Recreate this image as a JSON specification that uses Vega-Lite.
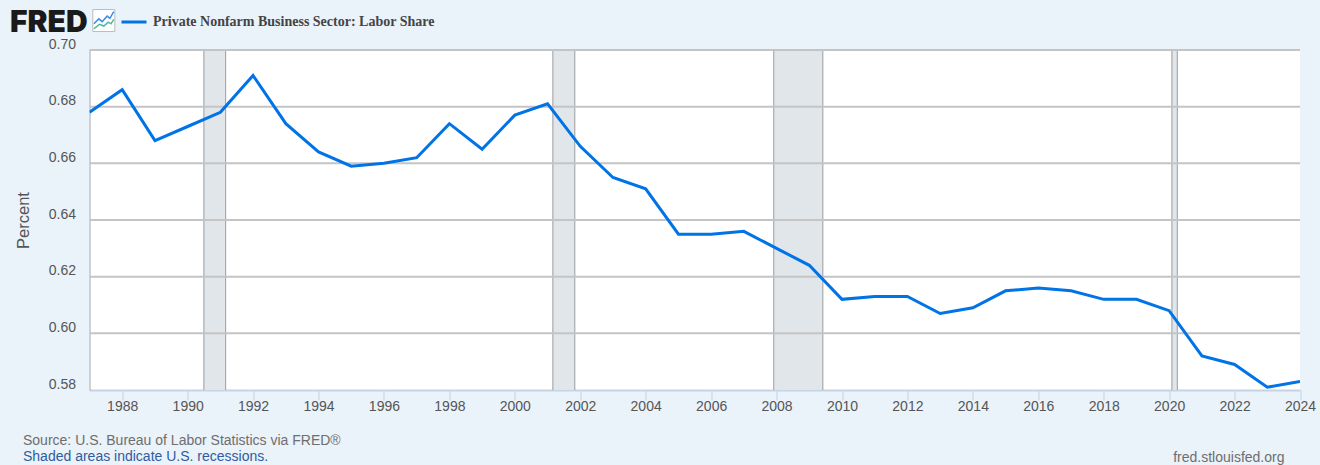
{
  "$schema": "https://vega.github.io/schema/vega-lite/v6.json",
  "autosize": {"type": "none"},
  "padding": {"left": 89.5, "top": 50, "right": 20, "bottom": 75},
  "width": 1210.5,
  "height": 340,
  "background": "#eaf2fa",
  "view": {"fill": "white", "stroke": null},
  "title": {
    "text": "Source: U.S. Bureau of Labor Statistics via FRED®",
    "subtitle": "Shaded areas indicate U.S. recessions.",
    "orient": "bottom",
    "anchor": "start",
    "frame": "group",
    "dx": -66.5,
    "dy": -38,
    "offset": 8,
    "font": "Liberation Sans",
    "fontSize": 14,
    "fontWeight": "normal",
    "color": "#6e6e6e",
    "subtitleFont": "Liberation Sans",
    "subtitleFontSize": 14,
    "subtitleColor": "#2f5c9e",
    "subtitlePadding": 2
  },
  "datasets": {
    "share": [
      {"date": "1987-01-01T00:00:00", "value": 0.678, "series": "Private Nonfarm Business Sector: Labor Share"},
      {"date": "1988-01-01T00:00:00", "value": 0.686, "series": "Private Nonfarm Business Sector: Labor Share"},
      {"date": "1989-01-01T00:00:00", "value": 0.668, "series": "Private Nonfarm Business Sector: Labor Share"},
      {"date": "1990-01-01T00:00:00", "value": 0.673, "series": "Private Nonfarm Business Sector: Labor Share"},
      {"date": "1991-01-01T00:00:00", "value": 0.678, "series": "Private Nonfarm Business Sector: Labor Share"},
      {"date": "1992-01-01T00:00:00", "value": 0.691, "series": "Private Nonfarm Business Sector: Labor Share"},
      {"date": "1993-01-01T00:00:00", "value": 0.674, "series": "Private Nonfarm Business Sector: Labor Share"},
      {"date": "1994-01-01T00:00:00", "value": 0.664, "series": "Private Nonfarm Business Sector: Labor Share"},
      {"date": "1995-01-01T00:00:00", "value": 0.659, "series": "Private Nonfarm Business Sector: Labor Share"},
      {"date": "1996-01-01T00:00:00", "value": 0.66, "series": "Private Nonfarm Business Sector: Labor Share"},
      {"date": "1997-01-01T00:00:00", "value": 0.662, "series": "Private Nonfarm Business Sector: Labor Share"},
      {"date": "1998-01-01T00:00:00", "value": 0.674, "series": "Private Nonfarm Business Sector: Labor Share"},
      {"date": "1999-01-01T00:00:00", "value": 0.665, "series": "Private Nonfarm Business Sector: Labor Share"},
      {"date": "2000-01-01T00:00:00", "value": 0.677, "series": "Private Nonfarm Business Sector: Labor Share"},
      {"date": "2001-01-01T00:00:00", "value": 0.681, "series": "Private Nonfarm Business Sector: Labor Share"},
      {"date": "2002-01-01T00:00:00", "value": 0.666, "series": "Private Nonfarm Business Sector: Labor Share"},
      {"date": "2003-01-01T00:00:00", "value": 0.655, "series": "Private Nonfarm Business Sector: Labor Share"},
      {"date": "2004-01-01T00:00:00", "value": 0.651, "series": "Private Nonfarm Business Sector: Labor Share"},
      {"date": "2005-01-01T00:00:00", "value": 0.635, "series": "Private Nonfarm Business Sector: Labor Share"},
      {"date": "2006-01-01T00:00:00", "value": 0.635, "series": "Private Nonfarm Business Sector: Labor Share"},
      {"date": "2007-01-01T00:00:00", "value": 0.636, "series": "Private Nonfarm Business Sector: Labor Share"},
      {"date": "2008-01-01T00:00:00", "value": 0.63, "series": "Private Nonfarm Business Sector: Labor Share"},
      {"date": "2009-01-01T00:00:00", "value": 0.624, "series": "Private Nonfarm Business Sector: Labor Share"},
      {"date": "2010-01-01T00:00:00", "value": 0.612, "series": "Private Nonfarm Business Sector: Labor Share"},
      {"date": "2011-01-01T00:00:00", "value": 0.613, "series": "Private Nonfarm Business Sector: Labor Share"},
      {"date": "2012-01-01T00:00:00", "value": 0.613, "series": "Private Nonfarm Business Sector: Labor Share"},
      {"date": "2013-01-01T00:00:00", "value": 0.607, "series": "Private Nonfarm Business Sector: Labor Share"},
      {"date": "2014-01-01T00:00:00", "value": 0.609, "series": "Private Nonfarm Business Sector: Labor Share"},
      {"date": "2015-01-01T00:00:00", "value": 0.615, "series": "Private Nonfarm Business Sector: Labor Share"},
      {"date": "2016-01-01T00:00:00", "value": 0.616, "series": "Private Nonfarm Business Sector: Labor Share"},
      {"date": "2017-01-01T00:00:00", "value": 0.615, "series": "Private Nonfarm Business Sector: Labor Share"},
      {"date": "2018-01-01T00:00:00", "value": 0.612, "series": "Private Nonfarm Business Sector: Labor Share"},
      {"date": "2019-01-01T00:00:00", "value": 0.612, "series": "Private Nonfarm Business Sector: Labor Share"},
      {"date": "2020-01-01T00:00:00", "value": 0.608, "series": "Private Nonfarm Business Sector: Labor Share"},
      {"date": "2021-01-01T00:00:00", "value": 0.592, "series": "Private Nonfarm Business Sector: Labor Share"},
      {"date": "2022-01-01T00:00:00", "value": 0.589, "series": "Private Nonfarm Business Sector: Labor Share"},
      {"date": "2023-01-01T00:00:00", "value": 0.581, "series": "Private Nonfarm Business Sector: Labor Share"},
      {"date": "2024-01-01T00:00:00", "value": 0.583, "series": "Private Nonfarm Business Sector: Labor Share"}
    ],
    "recessions": [
      {"start": "1990-07-01T00:00:00", "end": "1991-03-01T00:00:00"},
      {"start": "2001-03-01T00:00:00", "end": "2001-11-01T00:00:00"},
      {"start": "2007-12-01T00:00:00", "end": "2009-06-01T00:00:00"},
      {"start": "2020-02-01T00:00:00", "end": "2020-04-01T00:00:00"}
    ],
    "grid": [
      {"level": 0.6},
      {"level": 0.62},
      {"level": 0.64},
      {"level": 0.66},
      {"level": 0.68},
      {"level": 0.7}
    ]
  },
  "layer": [
    {
      "data": {"name": "recessions"},
      "mark": {"type": "rect", "fill": "#e1e6ea"},
      "encoding": {
        "x": {
          "field": "start",
          "type": "temporal",
          "scale": {"domain": [{"year": 1987}, {"year": 2024}], "nice": false},
          "axis": {
            "values": [{"year": 1988}, {"year": 1990}, {"year": 1992}, {"year": 1994}, {"year": 1996}, {"year": 1998}, {"year": 2000}, {"year": 2002}, {"year": 2004}, {"year": 2006}, {"year": 2008}, {"year": 2010}, {"year": 2012}, {"year": 2014}, {"year": 2016}, {"year": 2018}, {"year": 2020}, {"year": 2022}, {"year": 2024}],
            "format": "%Y",
            "grid": false,
            "labelAngle": 0,
            "labelFlush": false,
            "labelOverlap": false,
            "labelFont": "Liberation Sans",
            "labelFontSize": 14,
            "labelColor": "#555555",
            "labelPadding": -1,
            "tickSize": 10,
            "tickColor": "#c5d3e6",
            "domainColor": "#c5d3e6",
            "domainWidth": 2,
            "title": "fred.stlouisfed.org",
            "titleFont": "Liberation Sans",
            "titleFontSize": 14,
            "titleFontWeight": "normal",
            "titleColor": "#6e6e6e",
            "titleAlign": "right",
            "titleBaseline": "alphabetic",
            "titleX": 1194.5,
            "titleY": 71
          }
        },
        "x2": {"field": "end"},
        "y": {
          "datum": 0.58,
          "type": "quantitative",
          "scale": {"domain": [0.58, 0.7], "nice": false},
          "axis": {
            "values": [0.58, 0.6, 0.62, 0.64, 0.66, 0.68, 0.7],
            "format": ".2f",
            "grid": false,
            "ticks": false,
            "labelFont": "Liberation Sans",
            "labelFontSize": 14,
            "labelColor": "#555555",
            "labelPadding": 14,
            "labelOffset": -6,
            "domainColor": "#a6a6a6",
            "domainWidth": 1,
            "title": "Percent",
            "titleFont": "Liberation Sans",
            "titleFontSize": 16.5,
            "titleFontWeight": "normal",
            "titleColor": "#555555",
            "titlePadding": 17
          }
        },
        "y2": {"datum": 0.7}
      }
    },
    {
      "data": {"name": "recessions"},
      "mark": {"type": "rule", "color": "#9c9c9c", "strokeWidth": 1},
      "encoding": {"x": {"field": "start", "type": "temporal"}}
    },
    {
      "data": {"name": "recessions"},
      "mark": {"type": "rule", "color": "#9c9c9c", "strokeWidth": 1},
      "encoding": {"x": {"field": "end", "type": "temporal"}}
    },
    {
      "data": {"name": "grid"},
      "mark": {"type": "rule", "color": "#c4c4c4", "strokeWidth": 2},
      "encoding": {"y": {"field": "level", "type": "quantitative"}}
    },
    {
      "data": {"name": "share"},
      "mark": {"type": "line", "strokeWidth": 3, "clip": true},
      "encoding": {
        "x": {"field": "date", "type": "temporal"},
        "y": {"field": "value", "type": "quantitative"},
        "color": {
          "field": "series",
          "type": "nominal",
          "scale": {"range": ["#0073e6"]},
          "legend": {
            "orient": "none",
            "legendX": -79.5,
            "legendY": -42,
            "direction": "horizontal",
            "title": "FRED",
            "titleOrient": "left",
            "titleAnchor": "middle",
            "titleBaseline": "line-top",
            "titleLineHeight": 8,
            "titleFont": "Inter",
            "titleFontSize": 30,
            "titleFontWeight": 900,
            "titleColor": "#1a1a1a",
            "titlePadding": 32,
            "symbolType": "stroke",
            "symbolSize": 625,
            "symbolStrokeWidth": 3,
            "labelFont": "Liberation Serif",
            "labelFontSize": 14,
            "labelFontWeight": "bold",
            "labelColor": "#444444",
            "labelOffset": 5,
            "labelLimit": 400
          }
        }
      }
    },
    {
      "data": {"values": [{}]},
      "mark": {"type": "point", "shape": "square", "size": 484, "filled": true, "fill": "white", "stroke": "#bbbbbb", "strokeWidth": 1, "opacity": 1},
      "encoding": {
        "x": {"datum": {"year": 1987, "month": "jun", "date": 10}, "type": "temporal"},
        "y": {"datum": 0.7104, "type": "quantitative"}
      }
    },
    {
      "data": {"values": [{}]},
      "mark": {"type": "point", "shape": "M-.9 .3L-.45 -.15L-.15 .1L.3 -.4L.55 -.2L.9 -.8", "size": 484, "filled": false, "stroke": "#3b8ee0", "strokeWidth": 1.5, "opacity": 1},
      "encoding": {
        "x": {"datum": {"year": 1987, "month": "jun", "date": 10}, "type": "temporal"},
        "y": {"datum": 0.7104, "type": "quantitative"}
      }
    },
    {
      "data": {"values": [{}]},
      "mark": {"type": "point", "shape": "M-.9 .75L-.4 .35L0 .5L.4 .15L.65 .3L.9 -.1", "size": 484, "filled": false, "stroke": "#50b89a", "strokeWidth": 1.5, "opacity": 1},
      "encoding": {
        "x": {"datum": {"year": 1987, "month": "jun", "date": 10}, "type": "temporal"},
        "y": {"datum": 0.7104, "type": "quantitative"}
      }
    }
  ]
}
